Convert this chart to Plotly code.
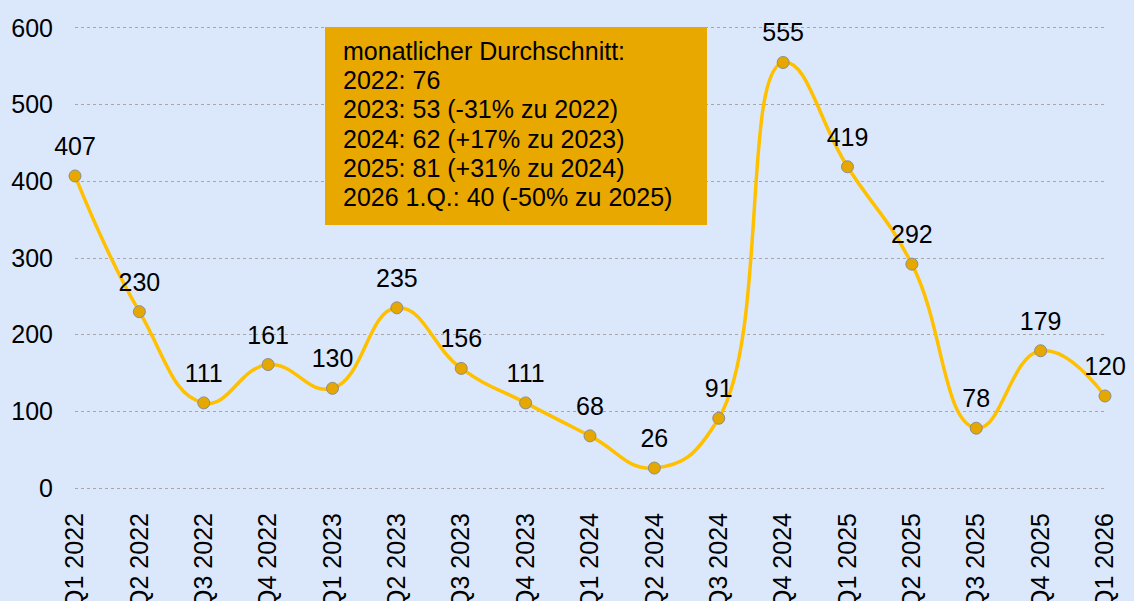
import plotly.graph_objects as go

quarters = ["Q1 2022", "Q2 2022", "Q3 2022", "Q4 2022",
            "Q1 2023", "Q2 2023", "Q3 2023", "Q4 2023",
            "Q1 2024", "Q2 2024", "Q3 2024", "Q4 2024",
            "Q1 2025", "Q2 2025", "Q3 2025", "Q4 2025",
            "Q1 2026"]
values = [407, 230, 111, 161, 130, 235, 156, 111, 68, 26, 91, 555, 419, 292, 78, 179, 120]
y_ticks = [0, 100, 200, 300, 400, 500, 600]
box_lines = [
    "monatlicher Durchschnitt:",
    "2022: 76",
    "2023: 53 (-31% zu 2022)",
    "2024: 62 (+17% zu 2023)",
    "2025: 81 (+31% zu 2024)",
    "2026 1.Q.: 40 (-50% zu 2025)",
]

FONT = "Liberation Sans, Arial, sans-serif"
BG = "#dbe8fc"
W, H = 1134, 601
ML, MR, MT, MB = 75, 29, 26, 111
PW, PH = W - ML - MR, H - MT - MB

x_idx = list(range(len(quarters)))

fig = go.Figure()
fig.add_trace(go.Scatter(
    x=x_idx, y=values,
    mode="lines+markers",
    line=dict(color="#ffc000", width=3.5, shape="spline", smoothing=1.3),
    marker=dict(size=12, color="#e6a800", line=dict(color="#8c8c8c", width=1)),
    cliponaxis=False,
    hoverinfo="skip",
))
fig.add_trace(go.Scatter(
    x=x_idx, y=values,
    mode="markers+text",
    marker=dict(size=22, color="rgba(0,0,0,0)"),
    text=[str(v) for v in values],
    textposition="top center",
    textfont=dict(family=FONT, size=25, color="#000000"),
    cliponaxis=False,
    hoverinfo="skip",
))

def px_to_paper_x(px):
    return (px - ML) / PW

def px_to_paper_y(py):
    return (H - MB - py) / PH

shapes = [dict(type="rect", xref="paper", yref="paper",
               x0=px_to_paper_x(325), x1=px_to_paper_x(707),
               y0=px_to_paper_y(225), y1=px_to_paper_y(27),
               fillcolor="#e8a800", line=dict(width=0), layer="above")]

annotations = []
for i, line in enumerate(box_lines):
    cy = 50.7 + 29.3 * i
    annotations.append(dict(
        xref="paper", yref="paper",
        x=px_to_paper_x(341), y=px_to_paper_y(cy),
        xanchor="left", yanchor="middle",
        text=line, showarrow=False,
        font=dict(family=FONT, size=25, color="#000000"),
    ))

fig.update_layout(
    width=W, height=H,
    margin=dict(l=ML, r=MR, t=MT, b=MB, pad=0, autoexpand=False),
    paper_bgcolor=BG, plot_bgcolor=BG,
    showlegend=False,
    shapes=shapes,
    annotations=annotations,
    font=dict(family=FONT, size=25, color="#000000"),
)
fig.update_xaxes(
    tickmode="array", tickvals=x_idx, ticktext=quarters,
    tickangle=-90, range=[0, len(quarters) - 1],
    showgrid=False, zeroline=False, showline=False, ticks="",
    tickfont=dict(family=FONT, size=25, color="#000000"),
    ticklabelstandoff=17, automargin=False,
)
fig.update_yaxes(
    tickmode="array", tickvals=y_ticks, range=[-2.6, 602.6],
    showgrid=True, gridcolor="#a6a6a6", griddash="dot", gridwidth=1,
    zeroline=False, showline=False, ticks="",
    tickfont=dict(family=FONT, size=25, color="#000000"),
    ticklabelstandoff=21, automargin=False,
)

fig.write_html("out.html", config={"displayModeBar": False},
               post_script="document.body.style.margin='0';document.body.style.background='%s';" % BG)
